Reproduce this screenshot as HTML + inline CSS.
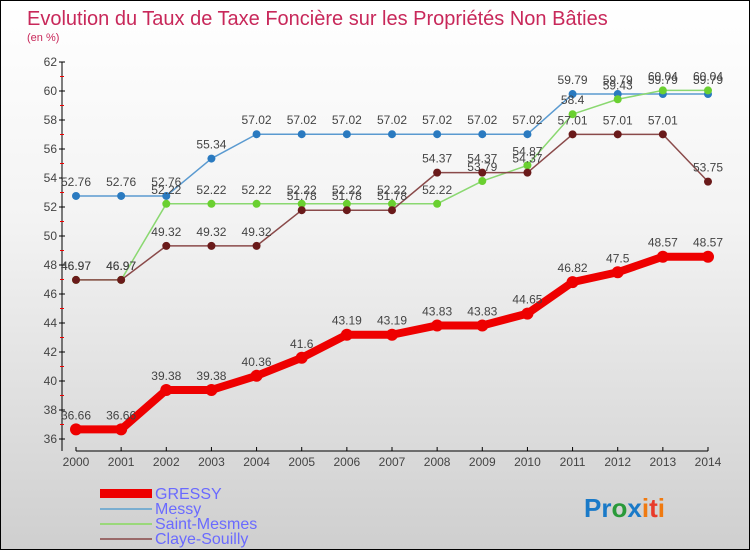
<!DOCTYPE html>
<html><head><meta charset="utf-8"><style>
body{margin:0}
#c{width:748px;height:548px;border:1px solid #000;background:linear-gradient(#fff,#f3f3f3 40%,#cfcfcf);position:relative;font-family:"Liberation Sans",sans-serif}
</style></head><body>
<div id="c">
<svg id="s" width="748" height="548" style="position:absolute;left:0;top:0">
<text x="26" y="24" font-size="20" fill="#c8285a">Evolution du Taux de Taxe Foncière sur les Propriétés Non Bâties</text>
<text x="26" y="40" font-size="11" fill="#c8285a">(en %)</text>
<g id="axes"></g><g id="series"></g>
<g font-size="16" fill="#6a6aff">
<rect x="99" y="488" width="52" height="9" fill="#e00"/>
<text x="154" y="498">GRESSY</text>
<rect x="99" y="507" width="52" height="2" fill="#7aaed0"/>
<text x="154" y="513">Messy</text>
<rect x="99" y="522" width="52" height="2" fill="#9ad87a"/>
<text x="154" y="528">Saint-Mesmes</text>
<rect x="99" y="537" width="52" height="2" fill="#9a6a6a"/>
<text x="154" y="543">Claye-Souilly</text>
</g>
<text x="583" y="516" font-size="26" font-weight="bold"><tspan fill="#1a7ac8">Pr</tspan><tspan fill="#2a9a3a">o</tspan><tspan fill="#1a7ac8">x</tspan><tspan fill="#f07a10">i</tspan><tspan fill="#e83a2a">t</tspan><tspan fill="#f07a10">i</tspan></text>
</svg>
</div>
<script>
const years=[2000,2001,2002,2003,2004,2005,2006,2007,2008,2009,2010,2011,2012,2013,2014];
const yTicks=[36,38,40,42,44,46,48,50,52,54,56,58,60,62];
const gressy=[36.66,36.66,39.38,39.38,40.36,41.6,43.19,43.19,43.83,43.83,44.65,46.82,47.5,48.57,48.57];
const messy=[52.76,52.76,52.76,55.34,57.02,57.02,57.02,57.02,57.02,57.02,57.02,59.79,59.79,59.79,59.79];
const saintMesmes=[46.97,46.97,52.22,52.22,52.22,52.22,52.22,52.22,52.22,53.79,54.87,58.4,59.43,60.04,60.04];
const claye=[46.97,46.97,49.32,49.32,49.32,51.78,51.78,51.78,54.37,54.37,54.37,57.01,57.01,57.01,53.75];
const NS="http://www.w3.org/2000/svg";
const X=i=>75+i*(632/14);
const Y=v=>438-(v-36)*14.5;
function mk(t,a,p){const e=document.createElementNS(NS,t);for(const k in a)e.setAttribute(k,a[k]);p.appendChild(e);return e;}
const ax=document.getElementById('axes');
let l=mk('line',{x1:61,y1:61,x2:61,y2:450,stroke:'#000'},ax);


l=mk('line',{x1:75,y1:450,x2:707,y2:450,stroke:'#000'},ax);


yTicks.forEach(v=>{
 mk('line',{x1:58,x2:64,y1:Y(v),y2:Y(v),stroke:'#000'},ax);
 if(v<62)mk('line',{x1:59,x2:63,y1:Y(v+1),y2:Y(v+1),stroke:'#e00'},ax);
 const t=mk('text',{x:56,y:Y(v)+4,'text-anchor':'end','font-size':12,fill:'#444'},ax);
 t.textContent=v;
 
 
});
years.forEach((yr,i)=>{
 mk('line',{x1:X(i),x2:X(i),y1:446,y2:450,stroke:'#000'},ax);
 const t=mk('text',{x:X(i),y:465,'text-anchor':'middle','font-size':12,fill:'#444'},ax);
 t.textContent=yr;
 
 
});
const sg=document.getElementById('series');
function draw(d,name,col,dot,w,r){
 const g=mk('g',{},sg);
 
 
 const p=mk('polyline',{points:d.map((v,i)=>X(i)+','+Y(v)).join(' '),fill:'none',stroke:col,'stroke-width':w,'stroke-linejoin':'round'},g);
 
 
 d.forEach((v,i)=>{
  const c=mk('circle',{cx:X(i),cy:Y(v),r:r,fill:dot},g);
  
  
  const t=mk('text',{x:X(i),y:Y(v)-10,'text-anchor':'middle','font-size':12,fill:'#444'},g);
  t.textContent=v;
  
  
 });
}
draw(messy,'messy','#5a9ad0','#2a7ac0',1.5,4);
draw(saintMesmes,'saint-mesmes','#8ad870','#6ad030',1.5,4);
draw(claye,'claye-souilly','#8a4a4a','#6a1a1a',1.5,4);
draw(gressy,'gressy','#e00','#e00',8,6);
</script>
</body></html>
